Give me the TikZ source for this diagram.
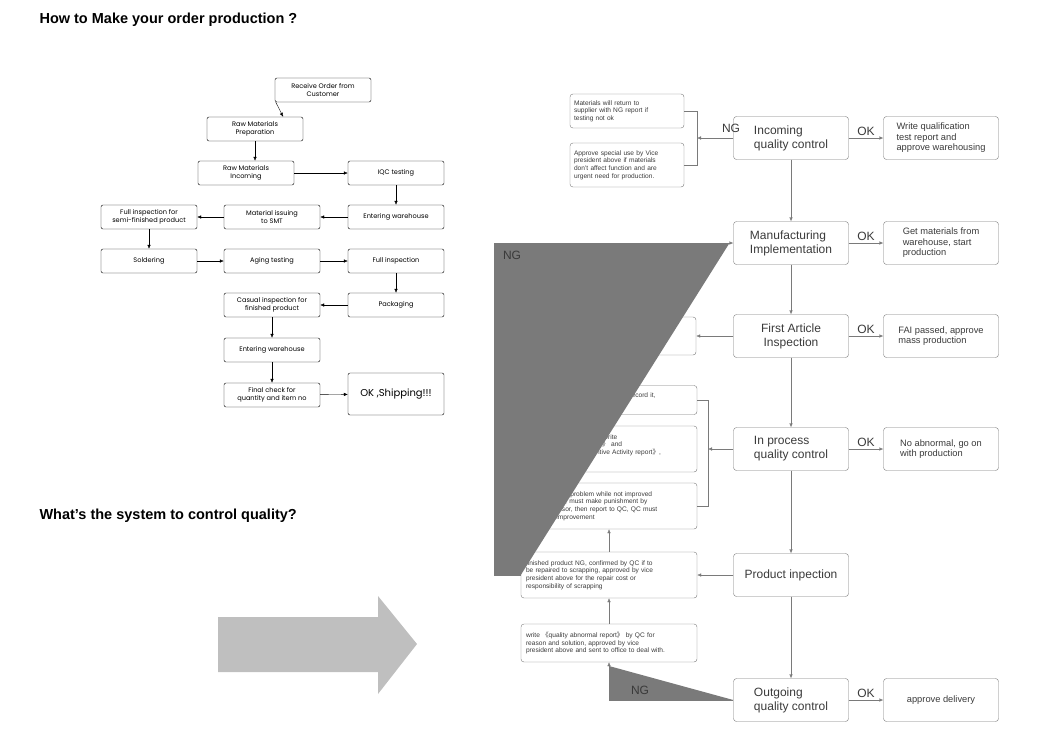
\documentclass[tikz,border=0pt]{standalone}
\usepackage{fontspec}
\setmainfont{Liberation Sans}
\newfontfamily\gothic{Poppins}
\newfontfamily\cjk{Noto Sans CJK SC}
\newcommand{\openq}{{\cjk 《}}
\newcommand{\closeq}{{\cjk 》}}
\usetikzlibrary{arrows.meta, positioning, calc}
\definecolor{linegray}{HTML}{7A7A7A}
\definecolor{textgray}{HTML}{3A3A3A}
\tikzset{
    >={Latex[length=4pt, width=3.5pt]},
    step box/.style={draw, rounded corners=2pt, minimum width=96pt, minimum height=24pt,
        align=center, font=\gothic\fontsize{6.6}{7.4}\selectfont, inner sep=1pt},
    qc box/.style={draw=linegray, rounded corners=3pt, minimum width=115pt, minimum height=43pt,
        text=textgray, align=left, font=\fontsize{12}{14}\selectfont},
    ok box/.style={qc box, font=\fontsize{9.3}{10.5}\selectfont},
    note box/.style={draw=linegray, rounded corners=3pt, text=textgray, align=left,
        font=\fontsize{6.6}{7.6}\selectfont, inner sep=1pt},
    flow/.style={->, thin},
    qflow/.style={->, draw=linegray, fill=linegray, thin},
    tag/.style={text=textgray, font=\fontsize{12}{14}\selectfont},
}
\begin{document}
\begin{tikzpicture}[x=1pt, y=-1pt]
    \useasboundingbox (0,0) rectangle (1059,747);
    % titles
    \node[anchor=west, font=\bfseries\fontsize{14.5}{16}\selectfont] (title1) at (36,20) {How to Make your order production ?};
    \node[anchor=west, font=\bfseries\fontsize{14.5}{16}\selectfont] (title2) at (36,516) {What's the system to control quality?};
    % order flow
    \node[step box] (order) at (323,90) {Receive Order from\\Customer};
    \node[step box] (prep) at (255,129) {Raw Materials\\Preparation};
    \node[step box] (incoming) at (246,173) {Raw Materials\\Incoming};
    \node[step box] (iqc) at (396,173) {IQC testing};
    \node[step box] (store) at (396,217) {Entering warehouse};
    \node[step box] (smt) at (272,217) {Material issuing\\to SMT};
    \node[step box] (semi) at (149,217) {Full inspection for\\semi-finished product};
    \node[step box] (solder) at (149,261) {Soldering};
    \node[step box] (aging) at (272,261) {Aging testing};
    \node[step box] (full) at (396,261) {Full inspection};
    \node[step box] (pack) at (396,305) {Packaging};
    \node[step box] (casual) at (272,305) {Casual inspection for\\finished product};
    \node[step box] (store2) at (272,350) {Entering warehouse};
    \node[step box] (final) at (272,395) {Final check for\\quantity and item no};
    \node[step box, minimum height=42pt, font=\gothic\fontsize{10}{12}\selectfont] (ship) at (396,394) {OK ,Shipping!!!};
    \draw[flow] ($(order.south west)+(1,0)$) -- ($(prep.north east)+(-20,0)$);
    \foreach \a/\b in {prep/incoming, iqc/store, semi/solder, full/pack, casual/store2, store2/final}
        \draw[flow] (\a) -- (\a |- \b.north);
    \foreach \a/\b in {incoming/iqc, store/smt, smt/semi, solder/aging, aging/full, pack/casual, final/ship}
        \draw[flow] (\a) -- (\b);
    % big arrow
    \fill[gray!50] (218,617) -- (378,617) -- (378,596) -- (417,644) -- (378,694) -- (378,672) -- (218,672) -- cycle;
    % quality control chain
    \node[qc box] (iqcq) at (791,138) {Incoming\\quality control};
    \node[qc box] (mfg) at (791,243) {Manufacturing\\Implementation};
    \node[qc box, align=center] (fai) at (791,336) {First Article\\Inspection};
    \node[qc box] (ipqc) at (791,449) {In process\\quality control};
    \node[qc box] (prod) at (791,575) {Product inpection};
    \node[qc box] (oqc) at (791,700) {Outgoing\\quality control};
    \node[ok box] (okiqc) at (941,138) {Write qualification\\test report and\\approve warehousing};
    \node[ok box] (okmfg) at (941,243) {Get materials from\\warehouse, start\\production};
    \node[ok box] (okfai) at (941,336) {FAI passed, approve\\mass production};
    \node[ok box] (okipqc) at (941,449) {No abnormal, go on\\with production};
    \node[ok box, align=center] (okoqc) at (941,700) {approve delivery};
    \foreach \a/\b in {iqcq/mfg, mfg/fai, fai/ipqc, ipqc/prod, prod/oqc}
        \draw[qflow] (\a) -- (\b);
    \foreach \a/\b in {iqcq/okiqc, mfg/okmfg, fai/okfai, ipqc/okipqc, oqc/okoqc} {
        \draw[qflow] (\a) -- (\b);
        \node[tag, above=-1pt] at ($(\a.east)!0.5!(\b.west)$) {OK};
    }
    % NG notes
    \node[note box, minimum width=114pt, minimum height=34pt, text width=106pt] (ret) at (627,111) {Materials will return to\\supplier with NG report if\\testing not ok};
    \node[note box, minimum width=114pt, minimum height=44pt, text width=106pt] (special) at (627,165) {Approve special use by Vice\\president above if materials\\don't affect function and are\\urgent need for production.};
    \node[note box, minimum width=128pt, minimum height=38pt, text width=120pt] (resend) at (632,336) {FAI NG, resend sample for test,\\QC suggest improvement to the\\NG point};
    \node[note box, minimum width=176pt, minimum height=29pt, text width=166pt] (find) at (609,400) {Find problem, correct it timely and record it,\\ask to improve at once, follow it};
    \node[note box, minimum width=176pt, minimum height=46pt, text width=166pt] (big) at (609,449) {Big quality problem, must write\\\openq Quality abnormal report\closeq{} and\\\openq Corrective And Preventive Activity report\closeq,\\approved by director};
    \node[note box, minimum width=176pt, minimum height=46pt, text width=166pt] (punish) at (609,506) {For big quality problem while not improved\\several times, must make punishment by\\Site Supervisor, then report to QC, QC must\\follow the improvement};
    \node[note box, minimum width=176pt, minimum height=46pt, text width=166pt] (scrap) at (609,575) {finished product NG, confirmed by QC if to\\be repaired to scrapping, approved by vice\\president above for the repair cost or\\responsibility of scrapping};
    \node[note box, minimum width=176pt, minimum height=38pt, text width=166pt] (abnormal) at (609,643) {write \openq quality abnormal report\closeq{} by QC for\\reason and solution, approved by vice\\president above and sent to office to deal with.};
    % NG connectors
    \coordinate (ngiqc) at (697,138);
    \draw[linegray] (ret.east) -| (ngiqc) |- (special.east);
    \draw[qflow] (iqcq.west) -- (ngiqc);
    \node[tag] (ngtag1) at (731,128) {NG};
    \draw[qflow] (fai.west) -- (resend.east);
    \coordinate (ngipqc) at (708,449);
    \draw[linegray] (find.east) -| (ngipqc) |- (punish.east);
    \draw[qflow] (ipqc.west) -- (ngipqc);
    \draw[qflow] (prod.west) -- (scrap.east);
    \draw[qflow] (scrap.north) -- (punish.south);
    \draw[qflow] (abnormal.north) -- (scrap.south);
    \draw[qflow] (oqc.west) -| (abnormal.south);
    \node[tag] (ngtag2) at (640,690) {NG};
    \coordinate (loop) at (494,575);
    \draw[qflow] (scrap.west) -- (loop) |- (mfg.west);
    \draw[linegray] (punish.west) -- (punish.west -| loop);
    \node[tag] (ngtag3) at (512,255) {NG};
\end{tikzpicture}
\end{document}
